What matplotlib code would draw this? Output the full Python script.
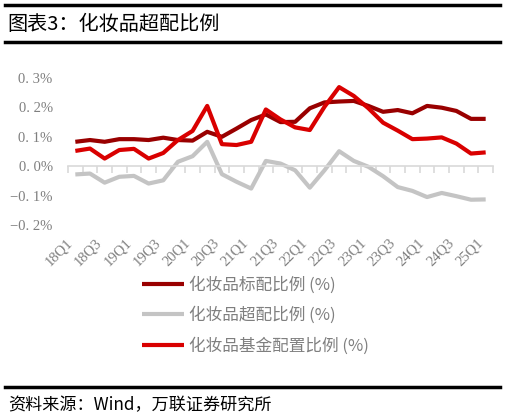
import numpy as np
import matplotlib
matplotlib.use("Agg")
from matplotlib import pyplot as plt
from matplotlib.lines import Line2D

plt.rcParams['font.family'] = ['Noto Sans CJK SC', 'DejaVu Sans']

quarters = [f"{y}Q{q}" for y in range(18, 25) for q in range(1, 5)] + ["25Q1"]

std_ratio = [0.083, 0.089, 0.083, 0.092, 0.092, 0.089, 0.097, 0.089, 0.087, 0.117,
             0.100, 0.128, 0.157, 0.176, 0.150, 0.151, 0.197, 0.217, 0.220, 0.222,
             0.205, 0.185, 0.191, 0.180, 0.205, 0.199, 0.188, 0.161, 0.161]
over_ratio = [-0.028, -0.025, -0.056, -0.036, -0.033, -0.059, -0.048, 0.015, 0.034, 0.083,
              -0.027, -0.053, -0.076, 0.018, 0.009, -0.014, -0.073, -0.014, 0.051, 0.018,
              -0.002, -0.034, -0.071, -0.084, -0.105, -0.091, -0.102, -0.114, -0.113]
fund_ratio = [0.052, 0.060, 0.026, 0.055, 0.059, 0.026, 0.045, 0.089, 0.120, 0.205,
              0.075, 0.072, 0.083, 0.193, 0.159, 0.132, 0.123, 0.202, 0.269, 0.239,
              0.197, 0.148, 0.121, 0.092, 0.094, 0.098, 0.077, 0.043, 0.047]

series_names = ["化妆品标配比例 (%)", "化妆品超配比例 (%)", "化妆品基金配置比例 (%)"]
colors = ["#990000", "#C4C4C4", "#D90000"]

y_ticks = [-0.2, -0.1, 0.0, 0.1, 0.2, 0.3]
y_labels = ["−0. 2%", "−0. 1%", "0. 0%", "0. 1%", "0. 2%", "0. 3%"]

W, H = 506, 419
fig = plt.figure(figsize=(W / 100, H / 100), dpi=100)

# header / footer bars
fig.add_artist(Line2D([5 / W, 500 / W], [1 - 5 / H, 1 - 5 / H], color="black", lw=2.5))
fig.add_artist(Line2D([5 / W, 500 / W], [1 - 42 / H, 1 - 42 / H], color="black", lw=2.5))
fig.add_artist(Line2D([5 / W, 500 / W], [1 - 387 / H, 1 - 387 / H], color="black", lw=2.5))
fig.text(7 / W, 1 - 24 / H, "图表3：化妆品超配比例", fontsize=14.5, va="center", ha="left",
         color="black")
fig.text(8 / W, 1 - 405 / H, "资料来源：Wind，万联证券研究所", fontsize=12.3, va="center",
         ha="left", color="black", style="italic")

ax = fig.add_axes([68 / W, 1 - 225 / H, 425 / W, 147 / H])
x = np.arange(len(quarters))
for vals, name, c in zip([std_ratio, over_ratio, fund_ratio], series_names, colors):
    ax.plot(x, vals, color=c, lw=3.0, label=name, solid_capstyle="butt")

ax.set_xlim(-0.5, len(quarters) - 0.5)
ax.set_ylim(-0.2, 0.3)
ax.set_yticks(y_ticks, y_labels, family=["Liberation Serif", "DejaVu Sans"], fontsize=10.5,
              color="#7F7F7F")
ax.tick_params(axis="y", length=0, pad=11)

for s in ["top", "right", "left"]:
    ax.spines[s].set_visible(False)
ax.spines["bottom"].set_position(("data", 0))
ax.spines["bottom"].set_color("#D9D9D9")
ax.spines["bottom"].set_linewidth(1.2)
ax.set_xticks(np.arange(-0.5, len(quarters), 1.0))
ax.tick_params(axis="x", length=5, width=1.2, color="#D9D9D9", labelbottom=False)

sec = ax.secondary_xaxis("bottom")
sec.set_xticks(x[::2], quarters[::2], rotation=45, ha="right", va="top",
               family=["Liberation Serif", "DejaVu Sans"], fontsize=10.5, color="#7F7F7F")
sec.tick_params(length=0, pad=8)
sec.spines["bottom"].set_visible(False)

fig.legend(loc="upper left", bbox_to_anchor=(142 / W, 1 - 276 / H), frameon=False,
           fontsize=12, handlelength=2.5, handletextpad=0.3, labelspacing=0.8,
           borderpad=0, borderaxespad=0, labelcolor="#7F7F7F")

fig.savefig("out.png", dpi=100)
